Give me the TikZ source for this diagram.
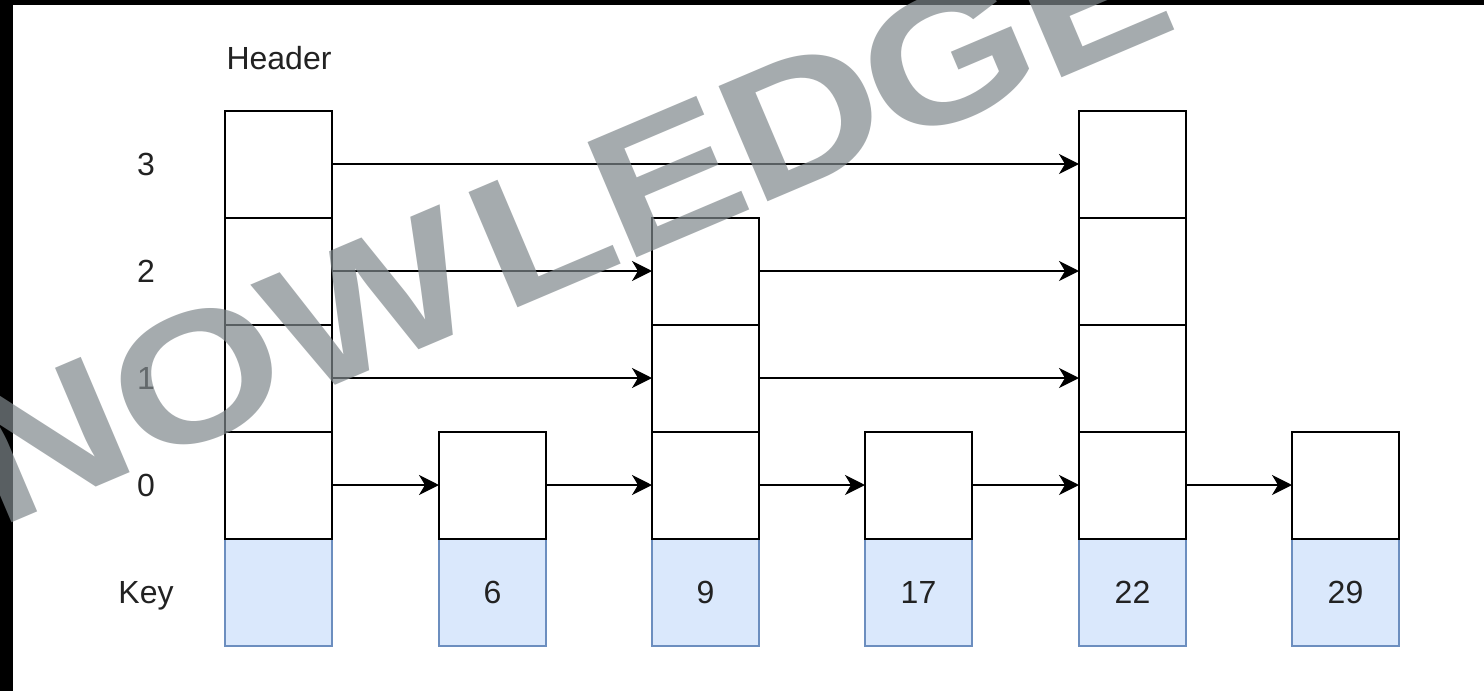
\documentclass[tikz,border=0pt]{standalone}
\usepackage{fontspec}
\setmainfont{Liberation Sans}
\usetikzlibrary{arrows.meta}
\definecolor{keyfill}{HTML}{DAE8FC}
\definecolor{keyline}{HTML}{6C8EBF}
\definecolor{wm}{RGB}{128,136,140}
\definecolor{txt}{HTML}{222222}
\begin{document}
\begin{tikzpicture}[x=0.5pt,y=-0.5pt,
  cell/.style={draw=black, line width=1pt, fill=white, minimum width=53.5pt, minimum height=53.5pt, inner sep=0pt, outer sep=0pt},
  keycell/.style={draw=keyline, line width=1pt, fill=keyfill, minimum width=53.5pt, minimum height=53.5pt, inner sep=0pt, outer sep=0pt, text=txt, font=\fontsize{16}{19}\selectfont},
  lbl/.style={text=txt, font=\fontsize{16}{19}\selectfont, inner sep=0pt, text height=11.5pt, text depth=0pt},
  arr/.style={line width=1pt, -{Stealth[length=10pt,width=10pt,inset=3pt]}},
  band/.style={fill=black, draw=none},
  wmark/.style={text=wm, opacity=0.7, inner sep=0pt, font=\bfseries\fontsize{91}{100}\selectfont}
]
\useasboundingbox[fill=white] (0,0) rectangle (1484,691);
\fill[band] (0,0) rectangle (1484,5);
\fill[band] (0,0) rectangle (13,691);

% labels
\node[lbl] (header) at (279,58) {Header};
\node[lbl] (l3) at (146,164) {3};
\node[lbl] (l2) at (146,271) {2};
\node[lbl] (l1) at (146,378) {1};
\node[lbl] (l0) at (146,485) {0};
\node[lbl] (lk) at (146,592) {Key};

% header column
\node[keycell] (hk) at (278.5,592) {};
\node[cell] (h0) at (278.5,485) {};
\node[cell] (h1) at (278.5,378) {};
\node[cell] (h2) at (278.5,271) {};
\node[cell] (h3) at (278.5,164) {};

% node 6
\node[keycell] (k6) at (492.5,592) {6};
\node[cell] (a0) at (492.5,485) {};

% node 9
\node[keycell] (k9) at (705.5,592) {9};
\node[cell] (b0) at (705.5,485) {};
\node[cell] (b1) at (705.5,378) {};
\node[cell] (b2) at (705.5,271) {};

% node 17
\node[keycell] (k17) at (918.5,592) {17};
\node[cell] (c0) at (918.5,485) {};

% node 22
\node[keycell] (k22) at (1132.5,592) {22};
\node[cell] (d0) at (1132.5,485) {};
\node[cell] (d1) at (1132.5,378) {};
\node[cell] (d2) at (1132.5,271) {};
\node[cell] (d3) at (1132.5,164) {};

% node 29
\node[keycell] (k29) at (1345.5,592) {29};
\node[cell] (e0) at (1345.5,485) {};

% arrows
\draw[arr] (h3.east) -- (d3.west);
\draw[arr] (h2.east) -- (b2.west);
\draw[arr] (b2.east) -- (d2.west);
\draw[arr] (h1.east) -- (b1.west);
\draw[arr] (b1.east) -- (d1.west);
\draw[arr] (h0.east) -- (a0.west);
\draw[arr] (a0.east) -- (b0.west);
\draw[arr] (b0.east) -- (c0.west);
\draw[arr] (c0.east) -- (d0.west);
\draw[arr] (d0.east) -- (e0.west);

% watermark
\node[wmark, anchor=base west, rotate=23] (wm) at (-2,529) {\scalebox{1.2}[1]{NOW\kern7pt L\kern-2pt E\kern-1.5pt D\kern-2.5pt G\kern-1pt E}};
\end{tikzpicture}
\end{document}
